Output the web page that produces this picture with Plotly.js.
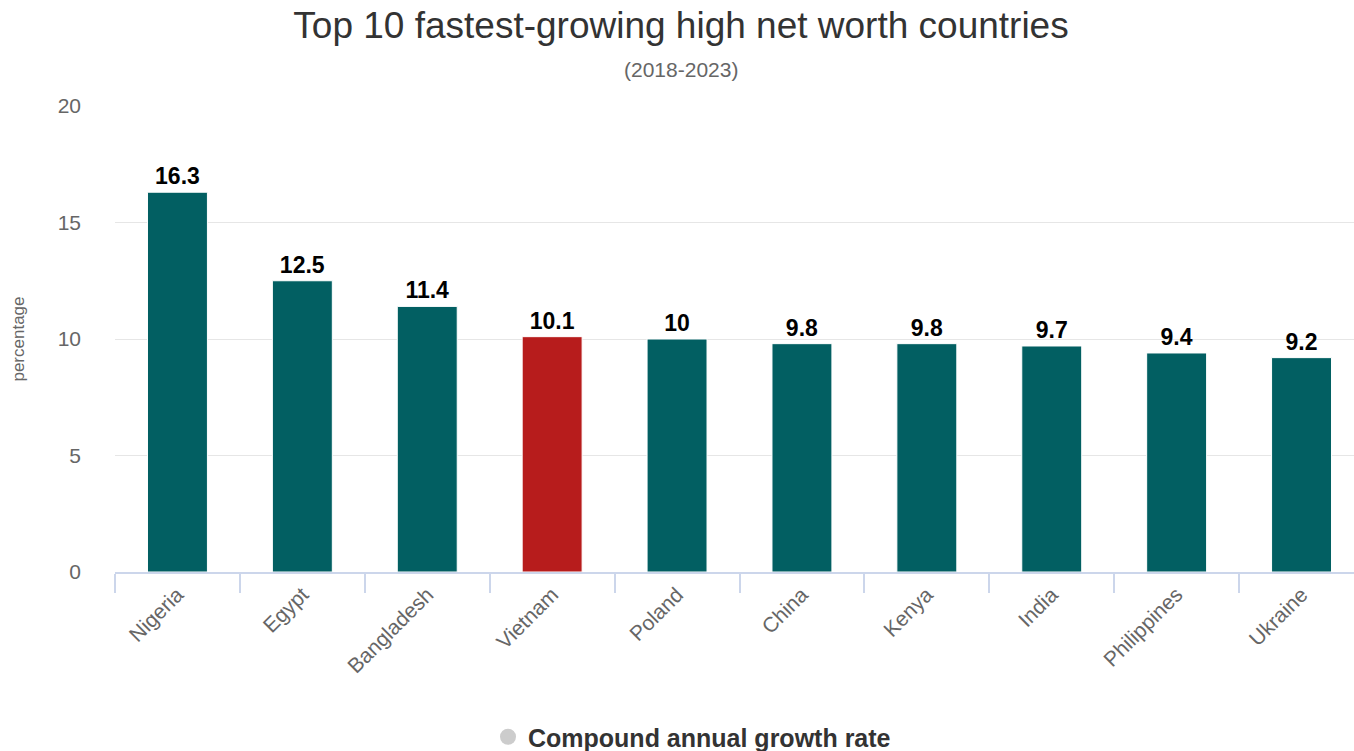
<!DOCTYPE html>
<html>
<head>
<meta charset="utf-8">
<script src="https://cdn.plot.ly/plotly-3.0.1.min.js"></script>
<style>
html,body{margin:0;padding:0;background:#fff;}
#chart{width:1354px;height:751px;}
</style>
</head>
<body>
<div id="chart"></div>
<script>
const countries = ["Nigeria","Egypt","Bangladesh","Vietnam","Poland","China","Kenya","India","Philippines","Ukraine"];
const growthRate = [16.3,12.5,11.4,10.1,10,9.8,9.8,9.7,9.4,9.2];
const highlight = "Vietnam";
const seriesName = "Compound annual growth rate";
const yTicks = [0,5,10,15,20];

const FONT = "Liberation Sans, Arial, sans-serif";
const colors = countries.map(c => c === highlight ? "#b71c1c" : "#025f62");

const traces = [
  {
    type: "bar",
    x: countries,
    y: growthRate,
    marker: {color: colors, line: {color: "#ffffff", width: 1}},
    text: growthRate.map(String),
    textposition: "outside",
    constraintext: "none",
    cliponaxis: false,
    textfont: {family: FONT, size: 23, color: "#000000", weight: "bold"},
    width: 0.48,
    showlegend: false,
    hoverinfo: "x+y"
  },
  {
    type: "scatter",
    mode: "markers",
    x: [null],
    y: [null],
    name: seriesName,
    marker: {symbol: "circle", size: 26, color: "#cccccc"},
    showlegend: true
  }
];

const layout = {
  width: 1354,
  height: 751,
  margin: {l: 115, r: 0, t: 106, b: 179},
  paper_bgcolor: "#ffffff",
  plot_bgcolor: "#ffffff",
  font: {family: FONT, color: "#666666"},
  title: {
    text: "Top 10 fastest-growing high net worth countries",
    font: {family: FONT, size: 37, color: "#333333"},
    x: 681/1354, xanchor: "center",
    y: 1 - 25/751, yref: "container", yanchor: "middle"
  },
  annotations: [
    {
      text: "(2018-2023)",
      xref: "paper", yref: "paper",
      x: (681-115)/1239, xanchor: "center",
      y: (572-69)/466, yanchor: "middle",
      showarrow: false,
      font: {family: FONT, size: 21, color: "#666666"}
    }
  ],
  xaxis: {
    type: "category",
    range: [-0.5, 9.42],
    showline: true,
    linecolor: "#ccd6eb",
    linewidth: 2,
    ticks: "outside",
    tickson: "boundaries",
    ticklen: 19,
    tickcolor: "#ccd6eb",
    tickwidth: 2,
    tickangle: -45,
    tickfont: {family: FONT, size: 21, color: "#666666"},
    showgrid: false,
    zeroline: false,
    fixedrange: true
  },
  yaxis: {
    range: [0, 20],
    tickvals: yTicks,
    showgrid: true,
    gridcolor: "#e6e6e6",
    gridwidth: 1,
    zeroline: false,
    showline: false,
    ticks: "",
    ticklabelstandoff: 33,
    tickfont: {family: FONT, size: 21, color: "#666666"},
    title: {text: "percentage", font: {family: FONT, size: 17, color: "#666666"}, standoff: 28},
    fixedrange: true
  },
  legend: {
    orientation: "h",
    x: 692/1354, xanchor: "center",
    xref: "container",
    y: 14/751, yref: "container", yanchor: "middle",
    font: {family: FONT, size: 25, color: "#333333", weight: "bold"},
    itemclick: false, itemdoubleclick: false
  },
  bargap: 0.52,
  hovermode: "closest"
};

Plotly.newPlot("chart", traces, layout, {displayModeBar: false, responsive: false});
</script>
</body>
</html>
